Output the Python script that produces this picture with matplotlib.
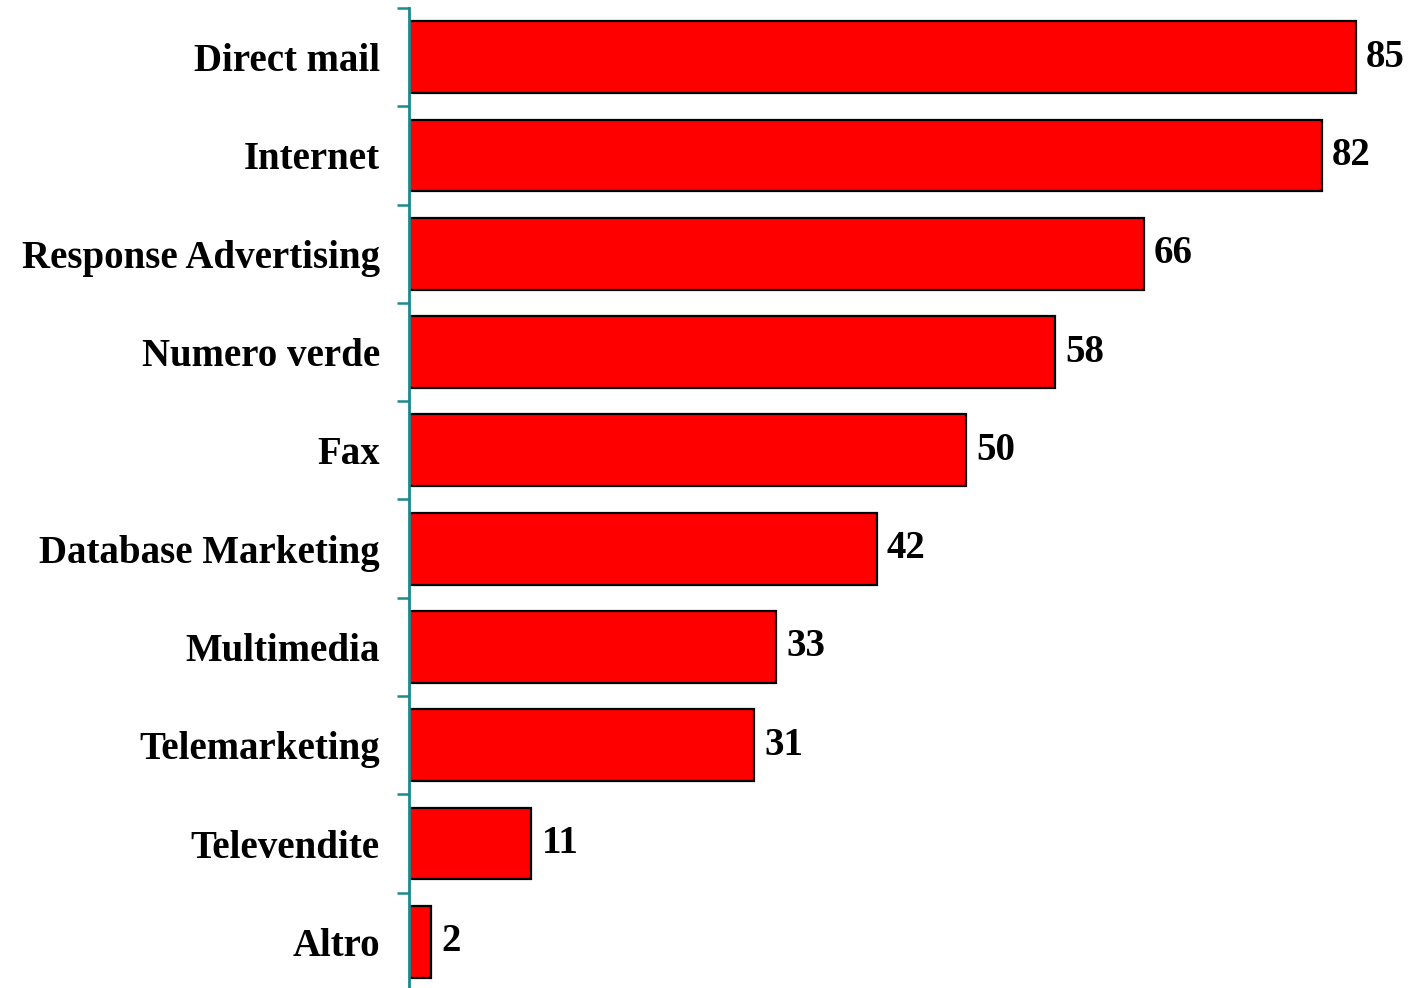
import numpy as np
import matplotlib.pyplot as plt

categories = ["Direct mail", "Internet", "Response Advertising", "Numero verde",
              "Fax", "Database Marketing", "Multimedia", "Telemarketing",
              "Televendite", "Altro"]
values = [85, 82, 66, 58, 50, 42, 33, 31, 11, 2]

plt.rcParams["font.family"] = ["Liberation Serif", "DejaVu Serif"]
plt.rcParams["font.weight"] = "bold"

fig = plt.figure(figsize=(14.09, 9.88), dpi=100)
ax = fig.add_axes([409 / 1409, 1 - 991 / 988, 1 - 409 / 1409, 983 / 988])

y = np.arange(len(categories))
ax.barh(y, values, height=0.73, color="#ff0000", edgecolor="black", linewidth=1.6)

for yi, v in zip(y, values):
    ax.text(v + 0.9, yi, str(v), va="center", ha="left",
            fontsize=28, fontweight="bold")

ax.set_ylim(len(categories) - 0.5, -0.5)
ax.set_xlim(0, 89.8)

ax.set_yticks(y)
ax.set_yticklabels(categories, fontsize=28, fontweight="bold")
ax.set_yticks(np.arange(len(categories)) - 0.5, minor=True)
ax.tick_params(axis="y", which="major", length=0, pad=21)
ax.tick_params(axis="y", which="minor", length=9, width=1.8, color="#1a8a8a")
ax.set_xticks([])

for side in ["top", "right", "bottom"]:
    ax.spines[side].set_visible(False)
ax.spines["left"].set_color("#1a8a8a")
ax.spines["left"].set_linewidth(2)

fig.savefig("out.png", dpi=100)
